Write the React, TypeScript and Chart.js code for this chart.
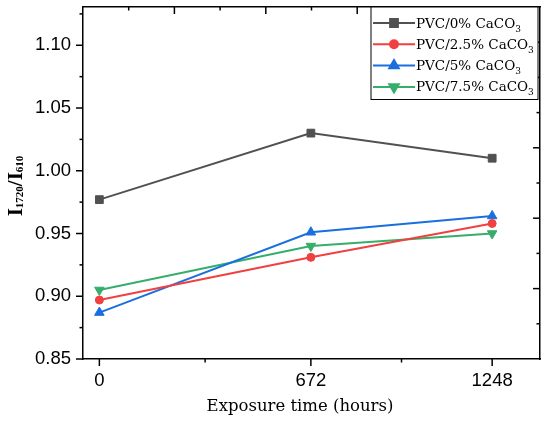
import { useEffect, useRef } from 'react'
import { Chart, registerables } from 'chart.js'
import { drawPoint } from 'chart.js/helpers'

Chart.register(...registerables)

// exposure time in hours
const hours = [0, 672, 1248]

// I1720/I610 ratio per sample
const pvc0 = [0.977, 1.030, 1.010]
const pvc25 = [0.897, 0.931, 0.958]
const pvc5 = [0.887, 0.951, 0.964]
const pvc75 = [0.905, 0.940, 0.950]

const seriesNames = ['PVC/0% CaCO', 'PVC/2.5% CaCO', 'PVC/5% CaCO', 'PVC/7.5% CaCO']

const xTicks = [0, 336, 672, 960, 1248]
const xLabels = [0, 672, 1248]
const yTicks = [0.85, 0.875, 0.9, 0.925, 0.95, 0.975, 1.0, 1.025, 1.05, 1.075, 1.1, 1.125]
const yLabels = [0.85, 0.9, 0.95, 1.0, 1.05, 1.1]
const frameTicks = [1, 2, 3, 4, 5, 6, 7, 8, 9]

const colors = ['#515151', '#F14040', '#1A6FDF', '#37AD6B']
const markers = [
  { pointStyle: 'rect', radius: 5.5, rotation: 0 },
  { pointStyle: 'circle', radius: 4, rotation: 0 },
  { pointStyle: 'triangle', radius: 5.5, rotation: 0 },
  { pointStyle: 'triangle', radius: 5.5, rotation: 180 },
]

const isLabel = (list: number[], v: number) => list.some(l => Math.abs(l - v) < 1e-6)

const noPadding = (scale: any) => {
  scale.paddingTop = 0
  scale.paddingBottom = 0
  scale.paddingLeft = 0
  scale.paddingRight = 0
}

// tick marks: outward on bottom/left, inward on top/right
const tickPlugin = {
  id: 'tickMarks',
  afterDraw(chart: any) {
    const ctx = chart.ctx
    ctx.save()
    ctx.strokeStyle = '#000'
    ctx.lineWidth = 1.5
    const s = chart.scales
    s.x.ticks.forEach((t: any) => {
      const px = s.x.getPixelForValue(t.value)
      const len = isLabel(xLabels, t.value) ? 7 : 3.5
      ctx.beginPath(); ctx.moveTo(px, s.x.top); ctx.lineTo(px, s.x.top + len); ctx.stroke()
    })
    s.y.ticks.forEach((t: any) => {
      const py = s.y.getPixelForValue(t.value)
      const len = isLabel(yLabels, t.value) ? 7 : 3.5
      ctx.beginPath(); ctx.moveTo(s.y.right, py); ctx.lineTo(s.y.right - len, py); ctx.stroke()
    })
    s.x2.ticks.forEach((t: any) => {
      const px = s.x2.getPixelForValue(t.value)
      const len = t.value % 2 === 0 ? 7 : 3.5
      ctx.beginPath(); ctx.moveTo(px, s.x2.bottom); ctx.lineTo(px, s.x2.bottom + len); ctx.stroke()
    })
    s.y2.ticks.forEach((t: any) => {
      const py = s.y2.getPixelForValue(t.value)
      const len = t.value % 2 === 0 ? 7 : 3.5
      ctx.beginPath(); ctx.moveTo(s.y2.left, py); ctx.lineTo(s.y2.left - len, py); ctx.stroke()
    })
    ctx.restore()
  },
}

// titles and boxed legend with subscripts
const textPlugin = {
  id: 'texts',
  afterDraw(chart: any) {
    const ctx = chart.ctx
    const area = chart.chartArea
    ctx.save()
    ctx.fillStyle = '#000'

    // x title
    ctx.font = '16.5px "DejaVu Serif"'
    ctx.textAlign = 'center'
    ctx.textBaseline = 'alphabetic'
    ctx.fillText('Exposure time (hours)', 300, 411)

    // y title I1720/I610
    ctx.textAlign = 'left'
    const big = 'bold 21px "Liberation Serif"'
    const small = 'bold 11px "Liberation Serif"'
    const parts: [string, string, number][] = [
      ['I', big, 0], ['1720', small, 1], ['/', big, 0], ['I', big, 0], ['610', small, 1],
    ]
    let total = 0
    parts.forEach(([txt, f]) => { ctx.font = f; total += ctx.measureText(txt).width })
    ctx.save()
    ctx.translate(21.5, (area.top + area.bottom) / 2 + 3 + total / 2)
    ctx.rotate(-Math.PI / 2)
    let x = 0
    parts.forEach(([txt, f, dy]) => {
      ctx.font = f
      ctx.fillText(txt, x, dy)
      x += ctx.measureText(txt).width
    })
    ctx.restore()

    // legend box
    const lx = 371, ly = area.top, lw = 167, lh = 92.5
    ctx.fillStyle = '#fff'
    ctx.fillRect(lx, ly, lw, lh)
    ctx.strokeStyle = '#000'
    ctx.lineWidth = 1
    ctx.strokeRect(lx, ly, lw, lh)
    seriesNames.forEach((name, i) => {
      const cy = ly + 16 + i * 21.3
      ctx.strokeStyle = colors[i]
      ctx.fillStyle = colors[i]
      ctx.lineWidth = 2
      ctx.beginPath(); ctx.moveTo(lx + 2, cy); ctx.lineTo(lx + 44, cy); ctx.stroke()
      drawPoint(ctx, { ...markers[i], borderWidth: 1 } as any, lx + 23, cy)
      ctx.fillStyle = '#000'
      ctx.font = '13.5px "DejaVu Serif"'
      ctx.fillText(name, lx + 45, cy + 4.5)
      const w = ctx.measureText(name).width
      ctx.font = '9px "DejaVu Serif"'
      ctx.fillText('3', lx + 45 + w, cy + 8.5)
    })
    ctx.restore()
  },
}

export default function App() {
  const canvasRef = useRef<HTMLCanvasElement>(null)

  useEffect(() => {
    if (!canvasRef.current) return
    const series = [pvc0, pvc25, pvc5, pvc75]

    const chart = new Chart(canvasRef.current, {
      type: 'line',
      data: {
        datasets: series.map((vals, i) => ({
          label: seriesNames[i] + '3',
          data: hours.map((h, j) => ({ x: h, y: vals[j] })),
          borderColor: colors[i],
          backgroundColor: colors[i],
          pointBackgroundColor: colors[i],
          pointBorderColor: colors[i],
          borderWidth: 2,
          pointStyle: markers[i].pointStyle as any,
          pointRadius: markers[i].radius,
          pointRotation: markers[i].rotation,
          pointBorderWidth: 1,
          tension: 0,
        })),
      },
      options: {
        animation: false,
        responsive: true,
        maintainAspectRatio: false,
        layout: { padding: 0 },
        plugins: {
          legend: { display: false },
          tooltip: { enabled: false },
        },
        scales: {
          x: {
            type: 'linear',
            position: 'bottom',
            min: -52,
            max: 1400,
            afterBuildTicks: (scale: any) => { scale.ticks = xTicks.map(v => ({ value: v })) },
            afterFit: (scale: any) => { scale.height = 62; noPadding(scale) },
            grid: { display: false, drawTicks: true, tickLength: 7 },
            border: { display: true, color: '#000', width: 1.5 },
            ticks: {
              padding: 4,
              color: '#000',
              font: { family: '"Liberation Sans"', size: 18.5 },
              callback: (v: any) => (isLabel(xLabels, Number(v)) ? String(v) : ''),
            },
          },
          x2: {
            type: 'linear',
            position: 'top',
            min: 0,
            max: 10,
            afterBuildTicks: (scale: any) => { scale.ticks = frameTicks.map(v => ({ value: v })) },
            afterFit: (scale: any) => { scale.height = 7; noPadding(scale) },
            grid: { display: false, drawTicks: false },
            border: { display: true, color: '#000', width: 1.5 },
            ticks: { display: false },
          },
          y: {
            type: 'linear',
            position: 'left',
            min: 0.85,
            max: 1.1305,
            afterBuildTicks: (scale: any) => { scale.ticks = yTicks.map(v => ({ value: v })) },
            afterFit: (scale: any) => { scale.width = 83; noPadding(scale) },
            grid: { display: false, drawTicks: true, tickLength: 7 },
            border: { display: true, color: '#000', width: 1.5 },
            ticks: {
              padding: 5,
              color: '#000',
              font: { family: '"Liberation Sans"', size: 18.5 },
              callback: (v: any) => (isLabel(yLabels, Number(v)) ? Number(v).toFixed(2) : ''),
            },
          },
          y2: {
            type: 'linear',
            position: 'right',
            min: 0,
            max: 10,
            afterBuildTicks: (scale: any) => { scale.ticks = frameTicks.map(v => ({ value: v })) },
            afterFit: (scale: any) => { scale.width = 10; noPadding(scale) },
            grid: { display: false, drawTicks: false },
            border: { display: true, color: '#000', width: 1.5 },
            ticks: { display: false },
          },
        },
      },
      plugins: [tickPlugin, textPlugin],
    })

    return () => chart.destroy()
  }, [])

  return (
    <div style={{ position: 'fixed', left: 0, top: 0, width: 550, height: 421, background: '#fff' }}>
      <canvas ref={canvasRef} />
    </div>
  )
}
